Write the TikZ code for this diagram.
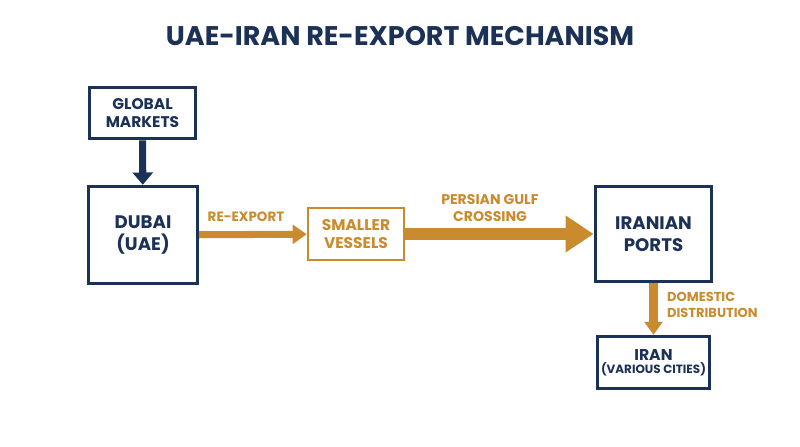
\documentclass[tikz,border=0pt]{standalone}
\usepackage{fontspec}
\setmainfont{Poppins}
\usetikzlibrary{arrows.meta}
\definecolor{navy}{HTML}{1C3156}
\definecolor{gold}{HTML}{C98B2E}
\newcommand{\BigText}{\bfseries\fontsize{15.5}{19}\selectfont}
\newcommand{\MidText}{\bfseries\fontsize{13.2}{15.5}\selectfont}
\tikzset{
    navybox/.style={draw=navy, line width=2.6pt, text=navy, align=center, font=\BigText},
    goldbox/.style={draw=gold, line width=2.2pt, text=gold, align=center, font=\MidText},
    goldlabel/.style={text=gold, font=\bfseries\fontsize{11.5}{13.5}\selectfont}
}
\begin{document}
\begin{tikzpicture}[x=0.03cm, y=-0.03cm]
    \useasboundingbox (0,0) rectangle (800,447);
    \node (title) at (400,36) [text=navy, font=\bfseries\fontsize{23}{26}\selectfont] {UAE-IRAN RE-EXPORT MECHANISM};
    \node (global) at (142.5,113) [navybox, font=\MidText, minimum width=3.2cm, minimum height=1.55cm] {GLOBAL\\MARKETS};
    \node (dubai) at (143,235) [navybox, minimum width=3.28cm, minimum height=2.92cm] {DUBAI\\(UAE)};
    \node (vessels) at (356,234) [goldbox, minimum width=2.88cm, minimum height=1.56cm] {SMALLER\\VESSELS};
    \node (ports) at (653.5,234) [navybox, minimum width=3.5cm, minimum height=2.86cm] {IRANIAN\\PORTS};
    \node (iran) at (653.5,362.5) [navybox, font=\bfseries, minimum width=3.38cm, minimum height=1.57cm] {{\fontsize{13.4}{15}\selectfont IRAN}\\[-1pt]{\fontsize{10.2}{12}\selectfont (VARIOUS CITIES)}};
    \draw[navy, line width=6pt, -{Triangle[width=17pt, length=10.5pt]}] (global) -- (dubai);
    \draw[gold, line width=6pt, -{Triangle[width=16pt, length=12pt]}] (dubai) -- (vessels);
    \draw[gold, line width=11pt, -{Triangle[width=30pt, length=24pt]}] (vessels) -- (ports);
    \draw[gold, line width=7pt, -{Triangle[width=15pt, length=11pt]}] (ports) -- (iran);
    \node (reexport) at (246,217) [goldlabel] {RE-EXPORT};
    \node (gulf) at (490,208) [goldlabel, align=center, font=\bfseries\fontsize{12}{14}\selectfont] {PERSIAN GULF\\CROSSING};
    \node (domestic) at (663,305) [goldlabel, align=left, anchor=west, font=\bfseries\fontsize{11.1}{13.5}\selectfont] {DOMESTIC\\DISTRIBUTION};
\end{tikzpicture}
\end{document}
